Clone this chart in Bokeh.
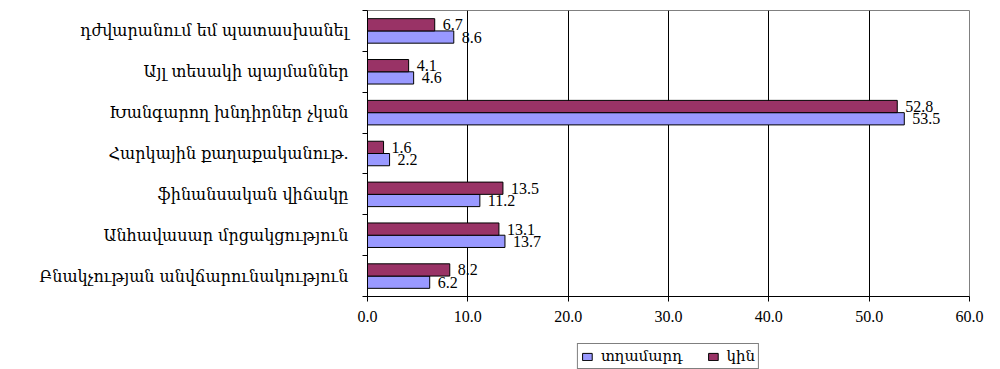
from bokeh.plotting import figure
from bokeh.layouts import column
from bokeh.models import (Range1d, FixedTicker, ColumnDataSource, Legend, LegendItem,
                          PrintfTickFormatter)
from bokeh.embed import file_html
from bokeh.resources import INLINE

categories = [
    "դժվարանում եմ պատասխանել",
    "Այլ տեսակի պայմաններ",
    "Խանգարող խնդիրներ չկան",
    "Հարկային քաղաքականութ.",
    "ֆինանսական վիճակը",
    "Անհավասար մրցակցություն",
    "Բնակչության անվճարունակություն",
]
men = [8.6, 4.6, 53.5, 2.2, 11.2, 13.7, 6.2]
women = [6.7, 4.1, 52.8, 1.6, 13.5, 13.1, 8.2]
series_names = ["տղամարդ", "կին"]
x_ticks = [0, 10, 20, 30, 40, 50, 60]

MEN_COLOR = "#9999FF"
WOMEN_COLOR = "#993366"

n = len(categories)
centers = [n - i - 0.5 for i in range(n)]
bar_h = 0.3

src = ColumnDataSource(dict(
    cat=categories,
    men=men,
    women=women,
    y_men=[c - bar_h / 2 for c in centers],
    y_women=[c + bar_h / 2 for c in centers],
    men_lbl=[f"{v:.1f}" for v in men],
    women_lbl=[f"{v:.1f}" for v in women],
))

W = 1000
H = 330
FRAME_LEFT, FRAME_RIGHT, FRAME_TOP, FRAME_BOTTOM = 367, 969, 10, 296
p = figure(width=W, height=H, output_backend="svg", toolbar_location=None,
           x_range=Range1d(0, 60), y_range=Range1d(0, n),
           min_border_left=FRAME_LEFT, min_border_right=W - FRAME_RIGHT,
           min_border_top=FRAME_TOP, min_border_bottom=H - FRAME_BOTTOM)

p.outline_line_color = "#808080"
p.outline_line_width = 1
p.background_fill_color = "white"
p.border_fill_color = "white"

# grids
p.ygrid.visible = False
p.xgrid.ticker = FixedTicker(ticks=x_ticks)
p.xgrid.grid_line_color = "black"
p.xgrid.grid_line_width = 1

# x axis
xa = p.xaxis[0]
xa.ticker = FixedTicker(ticks=x_ticks)
xa.formatter = PrintfTickFormatter(format="%.1f")
xa.axis_line_color = "black"
xa.major_tick_in = 0
xa.major_tick_out = 5
xa.minor_tick_line_color = None
xa.major_label_text_font = "Liberation Serif"
xa.major_label_text_font_size = "16px"
xa.major_label_text_color = "black"
xa.major_label_standoff = 9

# y axis (numeric with category labels at centers, ticks at boundaries)
ya = p.yaxis[0]
ya.ticker = FixedTicker(ticks=centers, minor_ticks=list(range(n + 1)))
ya.major_label_overrides = {c: lab for c, lab in zip(centers, categories)}
ya.major_tick_line_color = None
ya.major_tick_out = 0
ya.major_tick_in = 0
ya.minor_tick_in = 0
ya.minor_tick_out = 5
ya.minor_tick_line_color = "black"
ya.axis_line_color = "black"
ya.major_label_text_font = "DejaVu Serif"
ya.major_label_text_font_size = "16px"
ya.major_label_text_color = "black"
ya.major_label_standoff = 14

# bars
r_men = p.hbar(y="y_men", right="men", left=0, height=bar_h, source=src,
               fill_color=MEN_COLOR, line_color="black", line_width=1)
r_women = p.hbar(y="y_women", right="women", left=0, height=bar_h, source=src,
                 fill_color=WOMEN_COLOR, line_color="black", line_width=1)

# value labels
p.text(x="men", y="y_men", text="men_lbl", source=src, x_offset=8,
       text_baseline="middle", text_align="left", text_font="Liberation Serif",
       text_font_size="16px", text_color="black")
p.text(x="women", y="y_women", text="women_lbl", source=src, x_offset=8,
       text_baseline="middle", text_align="left", text_font="Liberation Serif",
       text_font_size="16px", text_color="black")

# legend in a small companion figure below the chart
LH = 39
lg = figure(width=W, height=LH, output_backend="svg", toolbar_location=None,
            x_range=Range1d(0, 1), y_range=Range1d(0, 1),
            min_border_left=FRAME_LEFT, min_border_right=W - FRAME_RIGHT,
            min_border_top=0, min_border_bottom=0)
lg.axis.visible = False
lg.grid.visible = False
lg.outline_line_color = None
lg.border_fill_color = "white"
lg.background_fill_color = "white"
# swatch renderers (their single entry lies outside the visible range)
sw = ColumnDataSource(dict(y=[-10], right=[1]))
lr_men = lg.hbar(y="y", right="right", left=0, height=0.1, source=sw,
                 fill_color=MEN_COLOR, line_color="black", line_width=1)
lr_women = lg.hbar(y="y", right="right", left=0, height=0.1, source=sw,
                   fill_color=WOMEN_COLOR, line_color="black", line_width=1)

legend = Legend(items=[LegendItem(label=series_names[0], renderers=[lr_men]),
                       LegendItem(label=series_names[1], renderers=[lr_women])],
                orientation="horizontal", location="top_center")
legend.border_line_color = "black"
legend.border_line_width = 1
legend.background_fill_color = "white"
legend.background_fill_alpha = 1
legend.label_text_font = "DejaVu Serif"
legend.label_text_font_size = "15px"
legend.label_text_color = "black"
legend.label_text_baseline = "middle"
legend.glyph_width = 12
legend.glyph_height = 9
legend.padding = 3
legend.spacing = 24
legend.label_standoff = 8
legend.label_height = 12
legend.margin = 13
lg.add_layout(legend, "center")

layout = column(p, lg, spacing=0)
open("out.html", "w").write(file_html(layout, INLINE))
